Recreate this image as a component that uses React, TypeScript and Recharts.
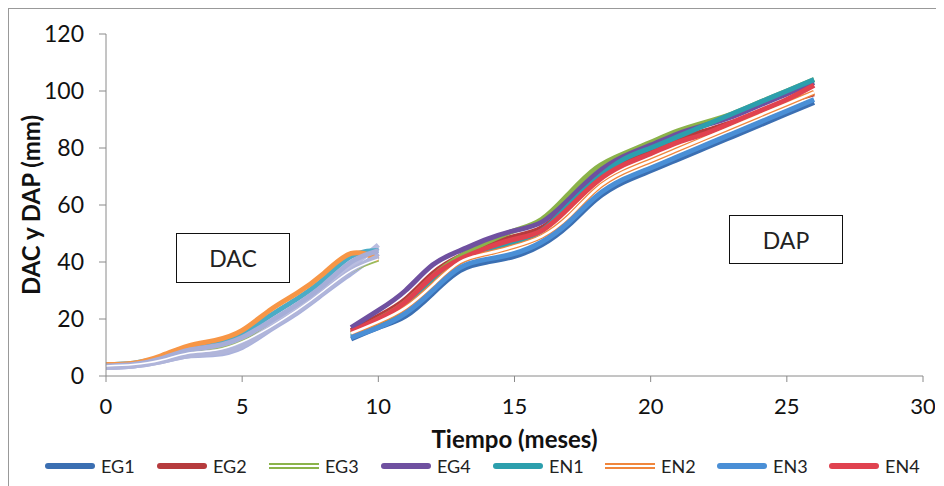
import { LineChart, Line, XAxis, YAxis } from 'recharts'

// Meses de medición
const DAC_MESES = [0, 1, 2, 3, 4, 5, 6, 7, 8, 9, 10]
const DAP_MESES = [9, 10, 11, 12, 13, 14, 15, 16, 17, 18, 19, 20, 21, 22, 23, 24, 25, 26]

// DAC (mm) por tratamiento
const DAC_EG1 = [3, 3.5, 5, 7, 7.5, 10, 16, 22, 29, 36, 43]
const DAC_EG2 = [3.5, 4, 6, 8.5, 9.5, 12.5, 18, 24, 31, 39, 45]
const DAC_EG3 = [3.5, 4, 5.5, 8, 9, 12, 17, 23, 30, 37, 41]
const DAC_EG4 = [3, 3.5, 5.5, 7.5, 8.5, 11, 17, 23, 30, 38, 46]
const DAC_EN1 = [4, 4.5, 6.5, 10, 12, 15, 21, 27, 34, 42, 44]
const DAC_EN2 = [4, 4.5, 7, 10.5, 12.5, 16, 23, 29, 36, 43, 41]
const DAC_EN3 = [3.5, 4, 6, 9, 10.5, 13.5, 19, 25, 32, 40, 44]
const DAC_EN4 = [3, 3.5, 5, 7, 8, 10.5, 16.5, 22.5, 29.5, 37, 42]

// DAP (mm) por tratamiento
const DAP_EG1 = [13, 17, 21, 29, 37, 40, 42, 46, 53, 62, 68, 72, 76, 80, 84, 88, 92, 96]
const DAP_EG2 = [16, 21, 27, 36, 42, 46, 49, 52, 60, 69, 75, 79, 83, 86, 89, 92, 96, 99]
const DAP_EG3 = [15, 20, 26, 35, 42, 47, 51, 55, 64, 73, 78, 82, 86, 89, 92, 96, 100, 104]
const DAP_EG4 = [17, 23, 30, 39, 44, 48, 51, 54, 62, 71, 77, 81, 85, 88, 91, 95, 99, 103]
const DAP_EN1 = [14, 18, 24, 33, 40, 44, 47, 51, 60, 69, 76, 80, 84, 88, 92, 96, 100, 104]
const DAP_EN2 = [15, 19, 24, 32, 40, 43, 45.5, 49, 56, 65.5, 71.5, 75.5, 79.5, 83.5, 87.5, 91.5, 95.5, 99.5]
const DAP_EN3 = [13.5, 17, 22, 30, 38, 41, 43, 47, 54, 63, 69, 73, 77, 81, 85, 89, 93, 97]
const DAP_EN4 = [15.5, 20, 26, 35, 41, 45, 48, 51, 59, 68, 74, 78, 82, 85, 89, 93, 97, 102]

const X_TICKS = [0, 5, 10, 15, 20, 25, 30]
const Y_TICKS = [0, 20, 40, 60, 80, 100, 120]

const FONT = 'Lato, "Open Sans", sans-serif'
const AXIS_GRAY = '#8a8a8a'

type Serie = { nombre: string; color: string; dac: number[]; dap: number[]; doble?: boolean; colorDac: string }

const SERIES: Serie[] = [
  { nombre: 'EG1', color: '#3b6fb2', dac: DAC_EG1, dap: DAP_EG1, colorDac: '#aab2dc' },
  { nombre: 'EG2', color: '#b63b3d', dac: DAC_EG2, dap: DAP_EG2, colorDac: '#b2b7de' },
  { nombre: 'EG3', color: '#8bb34a', dac: DAC_EG3, dap: DAP_EG3, doble: true, colorDac: '#9bbb59' },
  { nombre: 'EG4', color: '#6f50a0', dac: DAC_EG4, dap: DAP_EG4, colorDac: '#b9bde0' },
  { nombre: 'EN1', color: '#2c9fad', dac: DAC_EN1, dap: DAP_EN1, colorDac: '#4bacc6' },
  { nombre: 'EN2', color: '#f0863c', dac: DAC_EN2, dap: DAP_EN2, doble: true, colorDac: '#f79646' },
  { nombre: 'EN3', color: '#4a8fd6', dac: DAC_EN3, dap: DAP_EN3, colorDac: '#a6aed8' },
  { nombre: 'EN4', color: '#e0424f', dac: DAC_EN4, dap: DAP_EN4, colorDac: '#b0b5da' },
]

const toPoints = (meses: number[], vals: number[]) => meses.map((mes, i) => ({ mes, valor: vals[i] }))

function YTitle({ viewBox }: any) {
  const cy = viewBox.y + viewBox.height / 2
  const cx = 21
  return (
    <text x={cx} y={cy} transform={`rotate(-90, ${cx}, ${cy})`} textAnchor="middle" dominantBaseline="central"
      fontFamily={FONT} fontSize={24} fontWeight={700} fill="#111">
      DAC y DAP (mm)
    </text>
  )
}

function XTitle({ viewBox }: any) {
  const cx = viewBox.x + viewBox.width / 2
  return (
    <text x={cx} y={429} textAnchor="middle" dominantBaseline="central"
      fontFamily={FONT} fontSize={24} fontWeight={700} fill="#111">
      Tiempo (meses)
    </text>
  )
}

function LegendSwatch({ color, doble }: { color: string; doble?: boolean }) {
  if (doble) {
    return (
      <span style={{ display: 'inline-block', width: 50, height: 6, borderTop: `2px solid ${color}`, borderBottom: `2px solid ${color}`, boxSizing: 'border-box' }} />
    )
  }
  return <span style={{ display: 'inline-block', width: 50, height: 6, background: color, borderRadius: 3 }} />
}

const boxStyle: React.CSSProperties = {
  position: 'absolute',
  border: '1.5px solid #111',
  background: '#fff',
  fontFamily: FONT,
  fontSize: 23,
  color: '#222',
  display: 'flex',
  alignItems: 'center',
  justifyContent: 'center',
  boxSizing: 'border-box',
}

export default function App() {
  return (
    <div style={{ position: 'relative', width: 936, height: 478, borderLeft: '1px solid #999', borderTop: '1px solid #999', borderRight: '1px solid #999', boxSizing: 'border-box', background: '#fff', overflow: 'hidden' }}>
      <div style={{ position: 'absolute', left: 0, top: 0 }}>
        <LineChart width={926} height={470} margin={{ top: 25, right: 12, left: 0, bottom: 33 }}>
          <XAxis
            type="number"
            dataKey="mes"
            domain={[0, 30]}
            ticks={X_TICKS}
            allowDuplicatedCategory={false}
            height={70}
            stroke={AXIS_GRAY}
            tickSize={6}
            tickMargin={16}
            tick={{ fill: '#111', fontSize: 22, fontFamily: FONT }}
            label={<XTitle />}
          />
          <YAxis
            type="number"
            domain={[0, 120]}
            ticks={Y_TICKS}
            width={97}
            stroke={AXIS_GRAY}
            tickSize={7}
            tickMargin={15}
            tick={{ fill: '#111', fontSize: 23, fontFamily: FONT }}
            label={<YTitle />}
          />
          {SERIES.map((s) => (
            <Line
              key={`dac-${s.nombre}`}
              data={toPoints(DAC_MESES, s.dac)}
              dataKey="valor"
              type="natural"
              stroke={s.colorDac}
              strokeWidth={5}
              dot={false}
              legendType="none"
              isAnimationActive={false}
            />
          ))}
          <Line
            data={toPoints(DAC_MESES, DAC_EG3)}
            dataKey="valor"
            type="natural"
            stroke="#ffffff"
            strokeWidth={1.5}
            dot={false}
            legendType="none"
            isAnimationActive={false}
          />
          {SERIES.map((s) => (
            <Line
              key={`dap-${s.nombre}`}
              data={toPoints(DAP_MESES, s.dap)}
              dataKey="valor"
              name={s.nombre}
              type="natural"
              stroke={s.color}
              strokeWidth={5}
              dot={false}
              isAnimationActive={false}
            />
          ))}
          {/* centro blanco de la línea doble EN2 */}
          <Line
            data={toPoints(DAP_MESES, DAP_EN2)}
            dataKey="valor"
            type="natural"
            stroke="#ffffff"
            strokeWidth={2.5}
            dot={false}
            legendType="none"
            isAnimationActive={false}
          />
        </LineChart>
      </div>

      <div style={{ ...boxStyle, left: 167, top: 224, width: 114, height: 50 }}>DAC</div>
      <div style={{ ...boxStyle, left: 720, top: 206, width: 114, height: 49 }}>DAP</div>

      <div style={{ position: 'absolute', left: 36, top: 446, display: 'flex', alignItems: 'center', fontFamily: FONT, fontSize: 18, color: '#222' }}>
        {SERIES.map((s) => (
          <div key={s.nombre} style={{ display: 'flex', alignItems: 'center', width: 112 }}>
            <LegendSwatch color={s.color} doble={s.doble} />
            <span style={{ marginLeft: 6 }}>{s.nombre}</span>
          </div>
        ))}
      </div>
    </div>
  )
}
